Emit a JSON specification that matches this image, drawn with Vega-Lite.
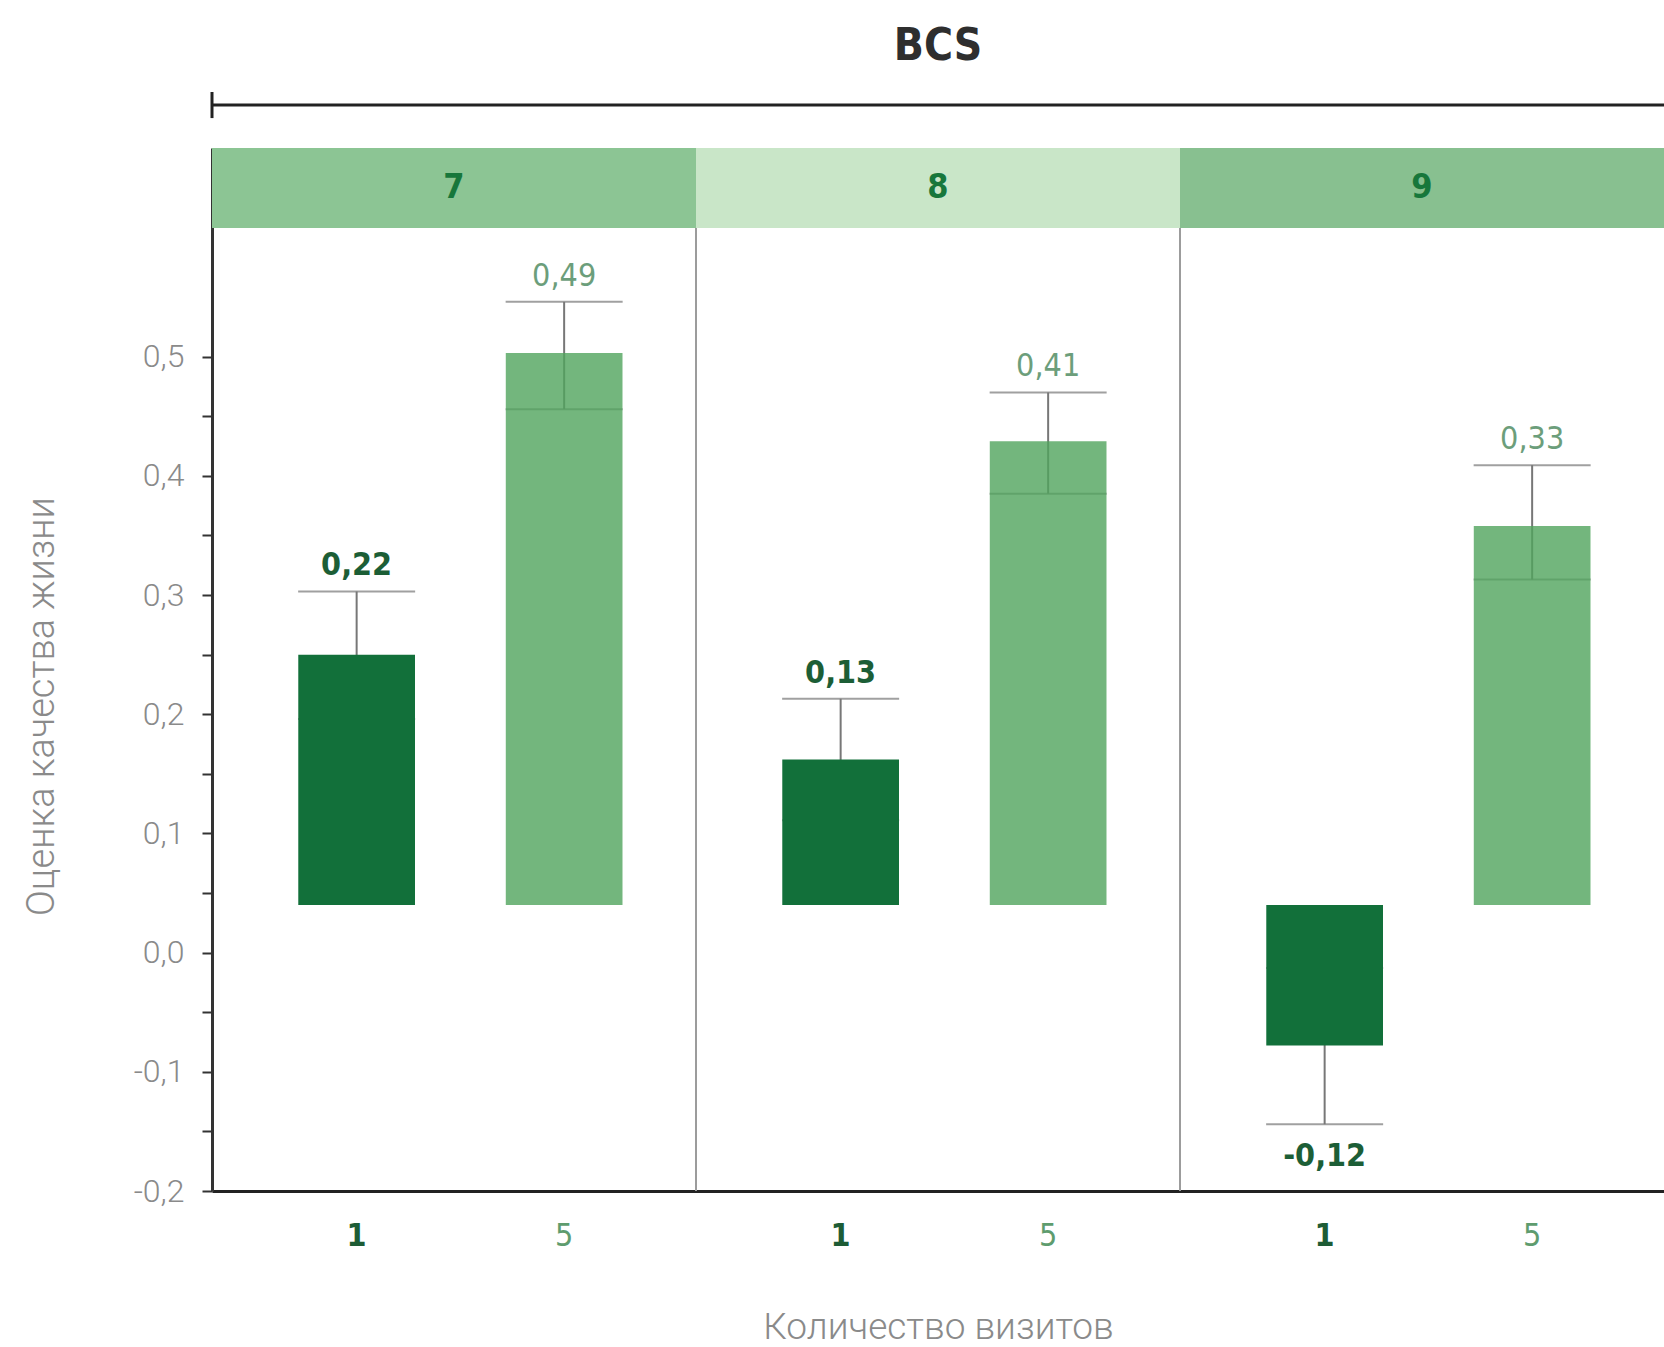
{
  "$schema": "https://vega.github.io/schema/vega-lite/v6.json",
  "width": 1452,
  "height": 1043,
  "autosize": {"type": "none"},
  "padding": {"left": 212, "top": 148, "right": 0, "bottom": 156},
  "background": "white",
  "config": {"view": {"stroke": null}, "axis": {"grid": false}},
  "title": {"text": "BCS", "font": "DejaVu Sans Condensed, DejaVu Sans", "fontSize": 44, "fontWeight": "bold", "color": "#2e2e2e", "anchor": "middle", "frame": "group", "offset": 21},
  "data": {
    "values": [
      {"BCS": "7", "visits": "1", "value": 0.250, "lo": 0.196, "hi": 0.303, "label": "0,22"},
      {"BCS": "7", "visits": "5", "value": 0.503, "lo": 0.456, "hi": 0.546, "label": "0,49"},
      {"BCS": "8", "visits": "1", "value": 0.162, "lo": 0.111, "hi": 0.213, "label": "0,13"},
      {"BCS": "8", "visits": "5", "value": 0.429, "lo": 0.385, "hi": 0.470, "label": "0,41"},
      {"BCS": "9", "visits": "1", "value": -0.078, "lo": -0.144, "hi": -0.013, "label": "-0,12"},
      {"BCS": "9", "visits": "5", "value": 0.358, "lo": 0.313, "hi": 0.409, "label": "0,33"}
    ]
  },
  "layer": [
    {
      "transform": [{"filter": "datum.visits == '1' && datum.BCS != '7'"}],
      "mark": {"type": "rule", "color": "#9c9c9c", "strokeWidth": 2},
      "encoding": {
        "x": {"field": "BCS", "type": "nominal", "bandPosition": 0,
          "scale": {"paddingInner": 0, "paddingOuter": 0},
          "axis": {"title": "Количество визитов", "labels": false, "ticks": false, "domain": true, "domainColor": "#222222", "domainWidth": 3,
            "titleFont": "Roboto", "titleFontWeight": 300, "titleFontSize": 37, "titleColor": "#8a8a8a", "titlePadding": 147, "titleBaseline": "alphabetic"}}
      }
    },
    {
      "transform": [{"filter": "datum.visits == '1'"}],
      "mark": {"type": "rect"},
      "encoding": {
        "x": {"field": "BCS", "type": "nominal"},
        "y": {"datum": 0.6079, "type": "quantitative"},
        "y2": {"datum": 0.6751},
        "color": {"field": "BCS", "type": "nominal", "scale": {"domain": ["7", "8", "9"], "range": ["#8cc594", "#c9e6c8", "#88c090"]}, "legend": null}
      }
    },
    {
      "transform": [{"filter": "datum.visits == '1'"}],
      "mark": {"type": "text", "font": "DejaVu Sans Condensed, DejaVu Sans", "fontSize": 34, "fontWeight": "bold", "color": "#17773b", "baseline": "middle"},
      "encoding": {
        "x": {"field": "BCS", "type": "nominal"},
        "y": {"datum": 0.6415, "type": "quantitative"},
        "text": {"field": "BCS"}
      }
    },
    {
      "transform": [{"filter": "datum.visits == '1' && datum.BCS == '7'"}],
      "mark": {"type": "rule", "color": "#222222", "strokeWidth": 3},
      "encoding": {
        "y": {"datum": 0.7111, "type": "quantitative"}
      }
    },
    {
      "transform": [{"filter": "datum.visits == '1' && datum.BCS == '7'"}],
      "mark": {"type": "rule", "color": "#222222", "strokeWidth": 3},
      "encoding": {
        "x": {"field": "BCS", "type": "nominal", "bandPosition": 0},
        "y": {"datum": 0.7221, "type": "quantitative"},
        "y2": {"datum": 0.7002}
      }
    },
    {
      "mark": {"type": "rule", "color": "#777777", "strokeWidth": 2},
      "encoding": {
        "x": {"field": "BCS", "type": "nominal"},
        "xOffset": {"field": "visits", "type": "nominal", "scale": {"paddingInner": 0.4375, "paddingOuter": 0.385, "align": 0.54}},
        "y": {"field": "lo", "type": "quantitative"},
        "y2": {"field": "hi"}
      }
    },
    {
      "mark": {"type": "tick", "color": "#777777", "thickness": 2, "size": 117, "orient": "horizontal"},
      "encoding": {
        "x": {"field": "BCS", "type": "nominal"},
        "xOffset": {"field": "visits", "type": "nominal"},
        "y": {"field": "hi", "type": "quantitative"}
      }
    },
    {
      "mark": {"type": "tick", "color": "#777777", "thickness": 2, "size": 117, "orient": "horizontal"},
      "encoding": {
        "x": {"field": "BCS", "type": "nominal"},
        "xOffset": {"field": "visits", "type": "nominal"},
        "y": {"field": "lo", "type": "quantitative"}
      }
    },
    {
      "mark": {"type": "bar"},
      "encoding": {
        "x": {"field": "BCS", "type": "nominal"},
        "xOffset": {"field": "visits", "type": "nominal"},
        "y": {"field": "value", "type": "quantitative",
          "scale": {"domain": [-0.2, 0.6751], "nice": false, "zero": false},
          "axis": {"title": "Оценка качества жизни",
            "values": [-0.2, -0.15, -0.1, -0.05, 0, 0.05, 0.1, 0.15, 0.2, 0.25, 0.3, 0.35, 0.4, 0.45, 0.5],
            "labelExpr": "abs(datum.value*10 - round(datum.value*10)) < 0.001 ? replace(replace(format(datum.value, '.1f'), '.', ','), '−', '-') : ''",
            "tickSize": 10, "tickWidth": 2, "tickColor": "#333333", "domainColor": "#333333", "domainWidth": 3,
            "labelFont": "Roboto", "labelFontWeight": 300, "labelFontSize": 32, "labelColor": "#8a8a8a", "labelPadding": 18,
            "labelFlush": false, "labelOverlap": false, "labelBaseline": "middle",
            "titleFont": "Roboto", "titleFontWeight": 300, "titleFontSize": 38, "titleColor": "#8a8a8a",
            "titleX": -170, "titleY": 558, "titleAngle": -90, "titleAlign": "center", "titleBaseline": "middle"}},
        "y2": {"datum": 0.040},
        "color": {"field": "visits", "type": "nominal", "scale": {"domain": ["1", "5"], "range": ["#12703a", "#50a45c"]}, "legend": null},
        "opacity": {"condition": {"test": "datum.visits == '1'", "value": 1}, "value": 0.8}
      }
    },
    {
      "transform": [{"filter": "datum.visits == '1' && datum.value > 0"}],
      "mark": {"type": "text", "font": "DejaVu Sans Condensed, DejaVu Sans", "fontSize": 32, "fontWeight": "bold", "color": "#1c5e36", "baseline": "alphabetic", "dy": -16},
      "encoding": {
        "x": {"field": "BCS", "type": "nominal"},
        "xOffset": {"field": "visits", "type": "nominal"},
        "y": {"field": "hi", "type": "quantitative"},
        "text": {"field": "label"}
      }
    },
    {
      "transform": [{"filter": "datum.visits == '1' && datum.value < 0"}],
      "mark": {"type": "text", "font": "DejaVu Sans Condensed, DejaVu Sans", "fontSize": 32, "fontWeight": "bold", "color": "#1c5e36", "baseline": "top", "dy": 17},
      "encoding": {
        "x": {"field": "BCS", "type": "nominal"},
        "xOffset": {"field": "visits", "type": "nominal"},
        "y": {"field": "lo", "type": "quantitative"},
        "text": {"field": "label"}
      }
    },
    {
      "transform": [{"filter": "datum.visits == '5'"}],
      "mark": {"type": "text", "font": "DejaVu Sans Condensed, DejaVu Sans", "fontSize": 32, "fontWeight": "normal", "color": "#6c9e7b", "baseline": "alphabetic", "dy": -16},
      "encoding": {
        "x": {"field": "BCS", "type": "nominal"},
        "xOffset": {"field": "visits", "type": "nominal"},
        "y": {"field": "hi", "type": "quantitative"},
        "text": {"field": "label"}
      }
    },
    {
      "transform": [{"filter": "datum.visits == '1'"}],
      "mark": {"type": "text", "font": "DejaVu Sans Condensed, DejaVu Sans", "fontSize": 32, "fontWeight": "bold", "color": "#1d5c35", "baseline": "middle", "dy": 45},
      "encoding": {
        "x": {"field": "BCS", "type": "nominal"},
        "xOffset": {"field": "visits", "type": "nominal"},
        "y": {"datum": -0.2, "type": "quantitative"},
        "text": {"field": "visits"}
      }
    },
    {
      "transform": [{"filter": "datum.visits == '5'"}],
      "mark": {"type": "text", "font": "DejaVu Sans Condensed, DejaVu Sans", "fontSize": 32, "fontWeight": "normal", "color": "#5e9c6e", "baseline": "middle", "dy": 45},
      "encoding": {
        "x": {"field": "BCS", "type": "nominal"},
        "xOffset": {"field": "visits", "type": "nominal"},
        "y": {"datum": -0.2, "type": "quantitative"},
        "text": {"field": "visits"}
      }
    }
  ],
  "resolve": {"scale": {"color": "independent"}}
}
